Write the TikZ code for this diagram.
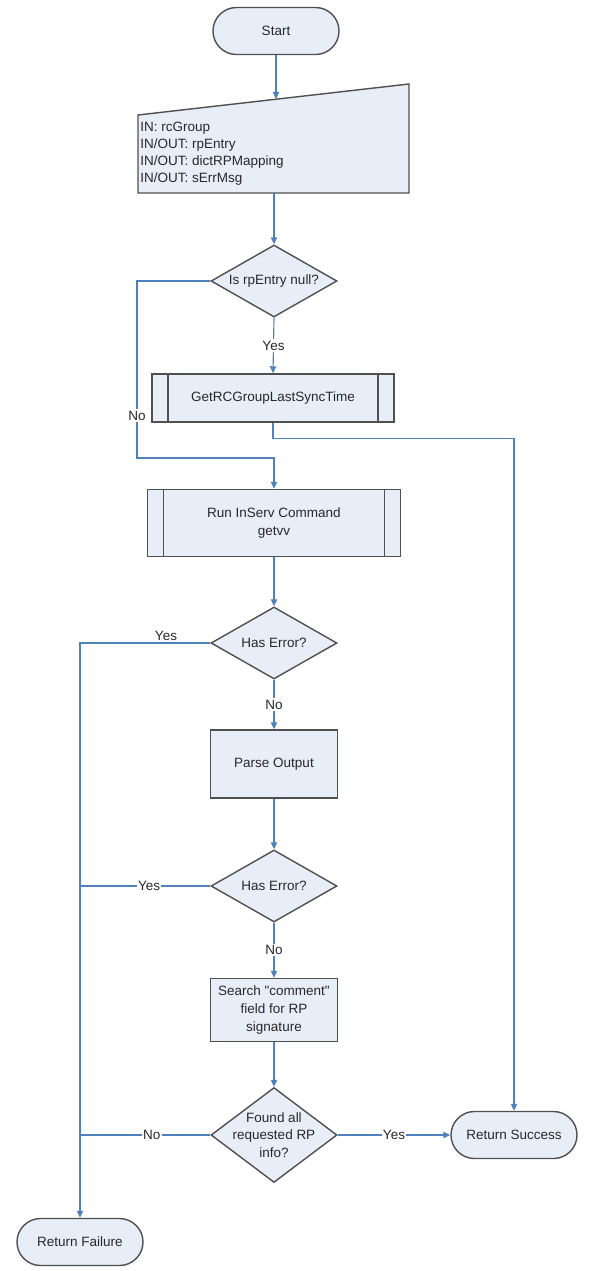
\documentclass[tikz,border=0pt]{standalone}
\usepackage{fontspec}
\setmainfont{Liberation Sans}[Ligatures=TeXOff]
\usetikzlibrary{shapes.geometric,shapes.misc,arrows.meta}

\definecolor{boxfill}{RGB}{232,238,247}
\definecolor{boxline}{RGB}{80,80,80}
\definecolor{flowblue}{RGB}{79,129,189}
\definecolor{txtgray}{RGB}{40,40,40}

\tikzset{
    base/.style={draw=boxline, fill=boxfill, line width=1pt, text=txtgray,
        font=\fontsize{9.6}{12.5}\selectfont, align=center, inner sep=0pt},
    term/.style={base, rounded rectangle, minimum width=3.15cm, minimum height=1.175cm},
    proc/.style={base, rectangle, minimum width=3.175cm},
    subproc/.style={base, rectangle, path picture={
        \draw [boxline, line width=1pt]
            ([xshift=0.4cm]path picture bounding box.north west) -- ([xshift=0.4cm]path picture bounding box.south west)
            ([xshift=-0.4cm]path picture bounding box.north east) -- ([xshift=-0.4cm]path picture bounding box.south east);}},
    dec/.style={base, diamond, minimum width=3.15cm, minimum height=1.8cm, aspect=1.75},
    link/.style={draw=flowblue, line width=0.8pt},
    flow/.style={link, -{Triangle[length=5pt,width=4.5pt]}},
    lbl/.style={fill=white, text=txtgray, font=\fontsize{9.6}{12.5}\selectfont, inner sep=1pt}
}

\begin{document}
\begin{tikzpicture}[x=0.025cm, y=-0.025cm]
    \useasboundingbox (0,0) rectangle (592,1271);

    \node [term] (start) at (276,31) {Start};

    % manual input
    \coordinate (in-tl) at (138,115);
    \coordinate (in-tr) at (409,84);
    \coordinate (in-br) at (409,193);
    \coordinate (in-bl) at (138,193);
    \filldraw [draw=boxline, fill=boxfill, line width=1pt] (in-tl) -- (in-tr) -- (in-br) -- (in-bl) -- cycle;
    \node [anchor=west, align=left, text=txtgray, inner sep=0pt,
        font=\fontsize{9.6}{12.1}\selectfont] (inp) at (140,154)
        {IN: rcGroup\\IN/OUT: rpEntry\\IN/OUT: dictRPMapping\\IN/OUT: sErrMsg};
    \coordinate (in-top) at (276,99);
    \coordinate (in-bot) at (274,193);

    \node [dec] (null) at (274,281) {Is rpEntry null?};
    \node [subproc, minimum width=6.05cm, minimum height=1.2cm] (sync) at (273,398) {GetRCGroupLastSyncTime};
    \node [subproc, minimum width=6.325cm, minimum height=1.675cm] (getvv) at (274,523) {Run InServ Command\\getvv};
    \node [dec] (err1) at (274,643) {Has Error?};
    \node [proc, minimum height=1.7cm] (parse) at (274,764) {Parse Output};
    \node [dec] (err2) at (274,886) {Has Error?};
    \node [proc, minimum height=1.575cm] (search) at (274,1010) {Search "comment"\\field for RP\\signature};
    \node [dec, minimum height=2.375cm, aspect=1.2, inner ysep=-8pt] (found) at (274,1135) {Found all\\requested RP\\info?};
    \node [term] (succ) at (514,1135) {Return Success};
    \node [term] (fail) at (80,1242) {Return Failure};

    % connectors
    \draw [flow] (start.south) -- (start.south |- in-top);
    \draw [flow] (in-bot) -- (null.north);
    \draw [flow] (null.south) -- node [lbl] {Yes} (sync.north);
    \draw [flow] (null.west) -| node [lbl, pos=0.88] {No} (137,458) -| (getvv.north);
    \draw [flow] (sync.south) -- ++(0,16) -| (succ.north);
    \draw [flow] (getvv.south) -- (err1.north);
    \draw [flow] (err1.west) -| node [lbl, fill=none, above, pos=0.17] {Yes} (fail.north);
    \draw [flow] (err1.south) -- node [lbl] {No} (parse.north);
    \draw [flow] (parse.south) -- (err2.north);
    \draw [link] (err2.west) -- node [lbl, pos=0.47] {Yes} (err2.west -| fail.north);
    \draw [flow] (err2.south) -- node [lbl] {No} (search.north);
    \draw [flow] (search.south) -- (found.north);
    \draw [link] (found.west) -- node [lbl, pos=0.45] {No} (found.west -| fail.north);
    \draw [flow] (found.east) -- node [lbl] {Yes} (succ.west);
\end{tikzpicture}
\end{document}
